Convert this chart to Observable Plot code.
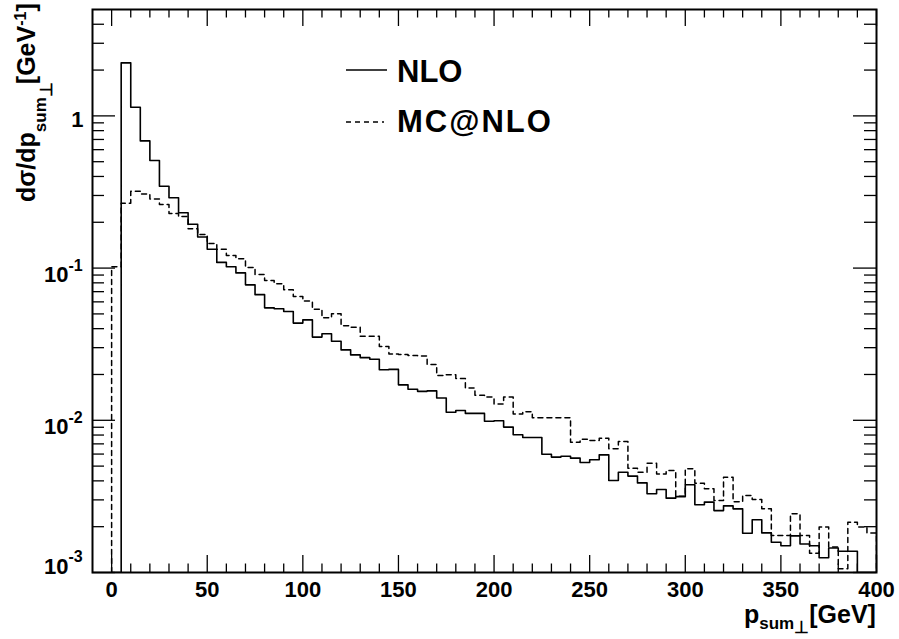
<!DOCTYPE html>
<html>
<head>
<meta charset="utf-8">
<script src="https://cdn.jsdelivr.net/npm/d3@7"></script>
<script src="https://cdn.jsdelivr.net/npm/@observablehq/plot@0.6"></script>
<style>
  body { margin: 0; background: #fff; }
  #chart svg { display: block; }
</style>
</head>
<body>
<div id="chart"></div>
<script>
// ---- Data (5 GeV bins from 0 to 400 GeV) ----
const binWidth = 5;
const xStart = 0;
const xEnd = 400;
const binLowEdges = d3.range(xStart, xEnd, binWidth);

// dσ/dp_sum⊥ [GeV^-1], NLO (solid)
const nloValues = [
  0, 2.23, 1.14, 0.685, 0.509, 0.345, 0.29, 0.231, 0.194, 0.16,
  0.133, 0.109, 0.102, 0.093, 0.0776, 0.0669, 0.0548, 0.054, 0.0519, 0.0435,
  0.0457, 0.0352, 0.037, 0.0331, 0.029, 0.0269, 0.0258, 0.0252, 0.0215, 0.0216,
  0.0171, 0.016, 0.0155, 0.0156, 0.014, 0.0113, 0.0116, 0.0111, 0.0111, 0.00986,
  0.00993, 0.00902, 0.00804, 0.0077, 0.0077, 0.00598, 0.00573, 0.0058, 0.00564, 0.00528,
  0.0055, 0.00593, 0.00402, 0.00456, 0.0043, 0.00388, 0.00329, 0.00351, 0.00308, 0.00315,
  0.00377, 0.00279, 0.0029, 0.00255, 0.00274, 0.00262, 0.00181, 0.00222, 0.00182, 0.00158,
  0.0015, 0.00174, 0.00154, 0.0015, 0.00125, 0.00145, 0.00138, 0.00138, 0, 0
];

// MC@NLO (dashed)
const mcnloValues = [
  0.102, 0.267, 0.32, 0.307, 0.284, 0.262, 0.228, 0.218, 0.181, 0.166,
  0.145, 0.133, 0.121, 0.115, 0.101, 0.0908, 0.0828, 0.0789, 0.072, 0.065,
  0.0607, 0.0537, 0.0471, 0.0501, 0.0418, 0.0409, 0.0357, 0.0357, 0.0305, 0.0273,
  0.0271, 0.0267, 0.0265, 0.0233, 0.0197, 0.0199, 0.0188, 0.0163, 0.0146, 0.0142,
  0.0128, 0.0142, 0.011, 0.0114, 0.0104, 0.0104, 0.0104, 0.0104, 0.00718, 0.00752,
  0.00736, 0.00762, 0.0065, 0.00726, 0.00484, 0.00456, 0.00522, 0.00444, 0.00468, 0.00317,
  0.0048, 0.00386, 0.00355, 0.00297, 0.00423, 0.00292, 0.00321, 0.00302, 0.00262, 0.00175,
  0.00175, 0.00243, 0.00175, 0.00134, 0.00199, 0.00147, 0.00106, 0.00214, 0.00199, 0.00182
];

const seriesNames = ["NLO", "MC@NLO"];

// axes
const xDomain = [-10, 400];
const yDomain = [1e-3, 5];
const xMajorTicks = [0, 50, 100, 150, 200, 250, 300, 350, 400];
const xMinorTicks = [10, 20, 30, 40, 60, 70, 80, 90, 110, 120, 130, 140, 160, 170, 180, 190,
  210, 220, 230, 240, 260, 270, 280, 290, 310, 320, 330, 340, 360, 370, 380, 390];
const yMajorTicks = [1e-3, 1e-2, 1e-1, 1];
const yMinorTicks = [
  2e-3, 3e-3, 4e-3, 5e-3, 6e-3, 7e-3, 8e-3, 9e-3,
  2e-2, 3e-2, 4e-2, 5e-2, 6e-2, 7e-2, 8e-2, 9e-2,
  2e-1, 3e-1, 4e-1, 5e-1, 6e-1, 7e-1, 8e-1, 9e-1,
  2, 3, 4
];
const yExponents = {0.001: "-3", 0.01: "-2", 0.1: "-1"};

// ---- layout ----
const W = 899, H = 639;
const mL = 92, mR = 23, mT = 9, mB = 67;
const innerW = W - mL - mR, innerH = H - mT - mB;

function histPoints(values) {
  const yMin = yDomain[0];
  const pts = [{x: xStart, y: yMin}];
  values.forEach((v, i) => pts.push({x: binLowEdges[i], y: v > 0 ? v : yMin}));
  const last = values[values.length - 1];
  pts.push({x: xEnd, y: last > 0 ? last : yMin});
  pts.push({x: xEnd, y: yMin});
  return pts;
}

const nloPts = histPoints(nloValues);
const mcPts = histPoints(mcnloValues);

const tickStroke = {stroke: "black", strokeWidth: 1.3};

const chart = Plot.plot({
  width: W, height: H,
  marginLeft: mL, marginRight: mR, marginTop: mT, marginBottom: mB,
  style: {fontFamily: "'Liberation Sans', Arial, Helvetica, sans-serif", fontWeight: "bold", background: "white", color: "black"},
  x: {type: "linear", domain: xDomain, axis: null},
  y: {type: "log", domain: yDomain, axis: null},
  marks: [
    // histograms
    Plot.line(mcPts, {x: "x", y: "y", curve: "step-after", stroke: "black", strokeWidth: 1.5, strokeDasharray: "5,4", clip: true}),
    Plot.line(nloPts, {x: "x", y: "y", curve: "step-after", stroke: "black", strokeWidth: 1.6, clip: true}),
    // inward ticks bottom / top
    Plot.tickX(xMajorTicks, {x: d => d, insetTop: innerH - 17, ...tickStroke}),
    Plot.tickX(xMinorTicks, {x: d => d, insetTop: innerH - 8.5, ...tickStroke}),
    Plot.tickX(xMajorTicks, {x: d => d, insetBottom: innerH - 17, ...tickStroke}),
    Plot.tickX(xMinorTicks, {x: d => d, insetBottom: innerH - 8.5, ...tickStroke}),
    // inward ticks left / right
    Plot.tickY(yMajorTicks, {y: d => d, insetRight: innerW - 23, ...tickStroke}),
    Plot.tickY(yMinorTicks, {y: d => d, insetRight: innerW - 12, ...tickStroke}),
    Plot.tickY(yMajorTicks, {y: d => d, insetLeft: innerW - 23, ...tickStroke}),
    Plot.tickY(yMinorTicks, {y: d => d, insetLeft: innerW - 12, ...tickStroke}),
    Plot.frame({stroke: "black", strokeWidth: 2}),
    // x tick labels
    Plot.text(xMajorTicks, {x: d => d, text: d => String(d), frameAnchor: "bottom", lineAnchor: "bottom", dy: 24, fontSize: 22, fill: "black"}),
    // y tick labels
    Plot.text(yMajorTicks.filter(d => d === 1), {y: d => d, text: () => "1", frameAnchor: "left", textAnchor: "end", lineAnchor: "bottom", dx: -9, dy: 11, fontSize: 22, fill: "black"}),
    Plot.text(yMajorTicks.filter(d => d !== 1 && d !== yDomain[0]), {y: d => d, text: () => "10", frameAnchor: "left", textAnchor: "end", lineAnchor: "bottom", dx: -24, dy: 14, fontSize: 22, fill: "black"}),
    Plot.text(yMajorTicks.filter(d => d !== 1 && d !== yDomain[0]), {y: d => d, text: d => yExponents[d], frameAnchor: "left", textAnchor: "start", lineAnchor: "bottom", dx: -24, dy: 3, fontSize: 16, fill: "black"}),
    Plot.text(yMajorTicks.filter(d => d === yDomain[0]), {y: d => d, text: () => "10", frameAnchor: "left", textAnchor: "end", lineAnchor: "bottom", dx: -24, dy: 1, fontSize: 22, fill: "black"}),
    Plot.text(yMajorTicks.filter(d => d === yDomain[0]), {y: d => d, text: d => yExponents[d], frameAnchor: "left", textAnchor: "start", lineAnchor: "bottom", dx: -24, dy: -11, fontSize: 16, fill: "black"})
  ]
});

const svg = d3.select(chart);

// y axis title
const yt = svg.append("text")
  .attr("transform", "translate(35,202) rotate(-90)")
  .attr("text-anchor", "start")
  .attr("font-size", 25).attr("font-weight", "bold").attr("fill", "black");
yt.append("tspan").text("dσ/dp");
yt.append("tspan").attr("font-size", 17).attr("dy", 11).text("sum");
yt.append("tspan").attr("font-size", 17).attr("dy", 6).text("⊥");
yt.append("tspan").attr("dy", -17).attr("dx", -2).text("[GeV");
yt.append("tspan").attr("font-size", 16).attr("dy", -9).text("-1");
yt.append("tspan").attr("dy", 9).text("]");

// x axis title
const xt = svg.append("text")
  .attr("x", 744).attr("y", 623)
  .attr("text-anchor", "start")
  .attr("font-size", 25).attr("font-weight", "bold").attr("fill", "black");
xt.append("tspan").text("p");
xt.append("tspan").attr("font-size", 17).attr("dy", 6).text("sum");
xt.append("tspan").attr("font-size", 17).attr("dy", 4).text("⊥");
xt.append("tspan").attr("dy", -10).attr("dx", 0).text("[GeV]");

// legend
const lg = svg.append("g").attr("text-anchor", "start");
lg.append("line").attr("x1", 346).attr("x2", 387).attr("y1", 70).attr("y2", 70)
  .attr("stroke", "black").attr("stroke-width", 1.6);
lg.append("text").attr("x", 397).attr("y", 82).attr("font-size", 31).attr("font-weight", "bold").text(seriesNames[0]);
lg.append("line").attr("x1", 346).attr("x2", 384).attr("y1", 122).attr("y2", 122)
  .attr("stroke", "black").attr("stroke-width", 1.5).attr("stroke-dasharray", "5,4");
lg.append("text").attr("x", 397).attr("y", 132).attr("font-size", 31).attr("font-weight", "bold")
  .attr("letter-spacing", 2).text(seriesNames[1]);

document.getElementById("chart").appendChild(chart);
</script>
</body>
</html>
